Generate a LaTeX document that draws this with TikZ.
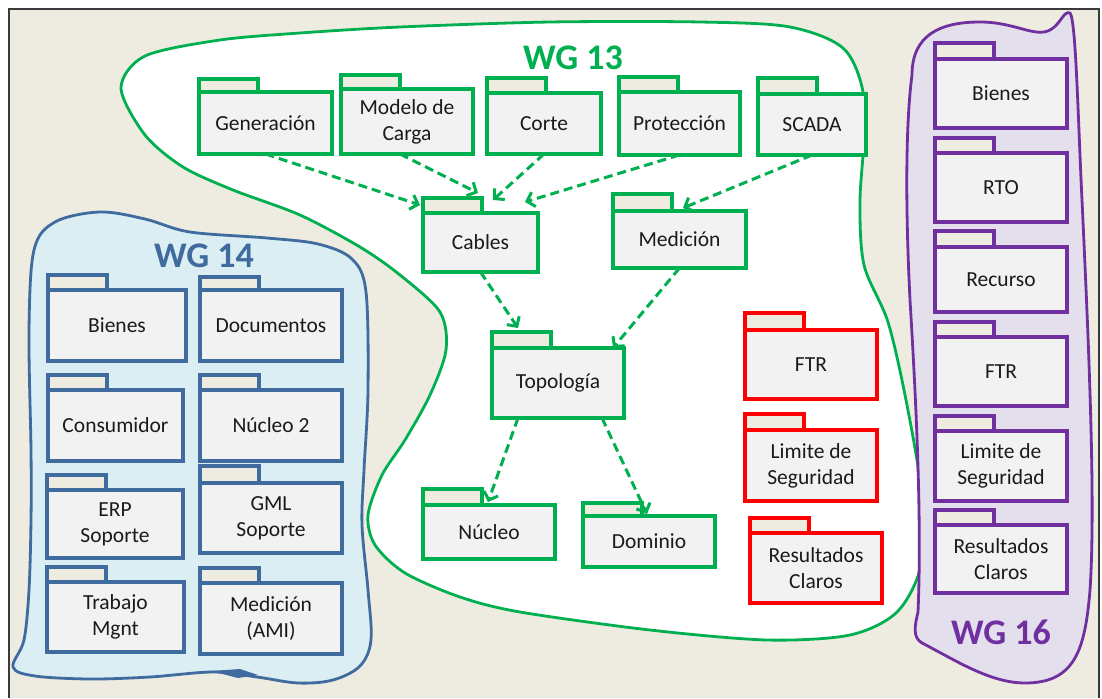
\documentclass[tikz,border=0pt]{standalone}
\usepackage{fontspec}
\setmainfont{Carlito}
\usetikzlibrary{arrows.meta}

\definecolor{bgbeige}{HTML}{EEECE1}
\definecolor{pkgfill}{HTML}{F2F2F2}
\definecolor{wgreen}{HTML}{00B050}
\definecolor{wblue}{HTML}{3F6B9E}
\definecolor{wbluefill}{HTML}{DAEEF3}
\definecolor{wpurple}{HTML}{7030A0}
\definecolor{wpurplefill}{HTML}{E4DFEC}
\definecolor{wred}{HTML}{FF0000}
\definecolor{txt}{HTML}{1A1A1A}
\definecolor{framecol}{HTML}{3A3A3A}

% UML package: #1 name, #2 left, #3 top of body, #4 right, #5 bottom,
% #6 top of tab, #7 colour, #8 label
\newcommand\umlpkg[8]{%
  \node[pkgbox, draw=#7, minimum width={#4-#2}, minimum height={#5-#3}]
    (#1) at ({(#2+#4)/2},{(#3+#5)/2}) {#8};
  \draw[tabbox, draw=#7] (#1.north west) rectangle ++(59,{#6-#3});
}

\begin{document}
\begin{tikzpicture}[x=1pt, y=-1pt,
  pkgbox/.style={fill=pkgfill, line width=3.2pt, inner sep=2pt, outer sep=0pt,
    align=center, text=txt, font=\fontsize{21.5}{26}\selectfont},
  tabbox/.style={fill=bgbeige, line width=3.2pt},
  wgtitle/.style={font=\bfseries\fontsize{36}{40}\selectfont},
  region/.style={line width=2.8pt},
  dep/.style={draw=wgreen, line width=3pt, dash pattern=on 9pt off 5pt,
    -{Straight Barb[length=7pt,width=15pt,line width=3pt]}}]

% page and frame
\fill[white] (0,0) rectangle (1102,698);
\fill[bgbeige] (9,9) rectangle (1099,698);
\draw[framecol, line width=1.4pt] (9,698) -- (9,9) -- (1099,9) -- (1099,698);

% WG 14 region
\draw[region, wblue, fill=wbluefill] plot[smooth cycle, tension=0.55]
  coordinates {(34,250) (55,222) (100,212) (145,219) (190,232) (267,238)
  (318,244) (352,259) (366,292) (368,390) (364,470) (362,525) (368,590)
  (371,640) (360,666) (333,680) (298,683) (257,677) (213,672) (150,677)
  (90,679) (35,676) (13,667) (24,640) (29,590) (31,520) (31,450) (29,330)};
% small kink on its lower edge
\fill[wblue] (211,671) -- (240,669) -- (258,675) -- (238,678) -- cycle;

% WG 13 region
\draw[region, wgreen, fill=white] plot[smooth cycle, tension=0.5]
  coordinates {(121,88) (145,56) (220,40) (300,33) (400,27) (550,22)
  (700,22) (790,27) (845,50) (865,105) (860,200) (864,265) (888,322)
  (906,400) (921,490) (921,565) (897,612) (850,635) (767,640) (650,630)
  (520,612) (460,597) (405,573) (375,545) (368,515) (382,475) (405,440)
  (430,395) (446,350) (440,312) (400,275) (360,247) (300,215) (233,190)
  (183,167) (145,135)};

% WG 16 region
\draw[region, wpurple, fill=wpurplefill]
  (912,75) .. controls (912,35) and (940,22) .. (980,22)
  .. controls (1015,22) and (1035,38) .. (1050,30)
  .. controls (1060,25) and (1064,10) .. (1070,13)
  .. controls (1076,20) and (1078,120) .. (1082,200)
  .. controls (1088,330) and (1096,500) .. (1090,590)
  .. controls (1085,650) and (1075,683) .. (1025,683)
  .. controls (990,683) and (955,660) .. (922,643)
  .. controls (912,637) and (915,625) .. (918,612)
  .. controls (922,520) and (916,400) .. (910,300)
  .. controls (905,200) and (906,120) .. (912,75) -- cycle;

% titles
\node[wgtitle, text=wgreen] (wg13) at (573,58) {WG 13};
\node[wgtitle, text=wblue] (wg14) at (204,256) {WG 14};
\node[wgtitle, text=wpurple] (wg16) at (1001,632) {WG 16};

% WG 13 packages
\umlpkg{gen}{199}{92}{332}{154}{79}{wgreen}{Generación}
\umlpkg{mod}{341}{89}{473}{154}{75}{wgreen}{Modelo de\\Carga}
\umlpkg{cor}{487}{93}{601}{154}{78}{wgreen}{Corte}
\umlpkg{pro}{619}{92}{740}{155}{77}{wgreen}{Protección}
\umlpkg{sca}{758}{94}{866}{155}{78}{wgreen}{SCADA}
\umlpkg{cab}{423}{213}{538}{272}{198}{wgreen}{Cables}
\umlpkg{med}{613}{211}{746}{268}{194}{wgreen}{Medición}
\umlpkg{top}{492}{348}{624}{418}{332}{wgreen}{Topología}
\umlpkg{nuc}{423}{505}{555}{559}{489}{wgreen}{Núcleo}
\umlpkg{dom}{583}{516}{715}{567}{503}{wgreen}{Dominio}
\umlpkg{ftr}{745}{330}{877}{399}{313}{wred}{FTR}
\umlpkg{lim}{745}{430}{877}{501}{414}{wred}{Limite de\\Seguridad}
\umlpkg{res}{750}{533}{882}{603}{518}{wred}{Resultados\\Claros}

% WG 14 packages
\umlpkg{bie}{48}{290}{186}{361}{275}{wblue}{Bienes}
\umlpkg{doc}{200}{290}{342}{361}{277}{wblue}{Documentos}
\umlpkg{con}{48}{390}{183}{461}{375}{wblue}{Consumidor}
\umlpkg{nu2}{200}{390}{342}{461}{375}{wblue}{Núcleo 2}
\umlpkg{erp}{47}{490}{183}{558}{475}{wblue}{ERP\\Soporte}
\umlpkg{gml}{200}{483}{342}{553}{466}{wblue}{GML\\Soporte}
\umlpkg{tra}{47}{582}{184}{652}{567}{wblue}{Trabajo\\Mgnt}
\umlpkg{ami}{200}{583}{342}{654}{568}{wblue}{Medición\\(AMI)}

% WG 16 packages
\umlpkg{pbie}{935}{59}{1067}{128}{43}{wpurple}{Bienes}
\umlpkg{prto}{935}{153}{1067}{222}{138}{wpurple}{RTO}
\umlpkg{prec}{935}{247}{1067}{312}{231}{wpurple}{Recurso}
\umlpkg{pftr}{935}{337}{1067}{406}{322}{wpurple}{FTR}
\umlpkg{plim}{935}{431}{1067}{501}{416}{wpurple}{Limite de\\Seguridad}
\umlpkg{pres}{935}{525}{1067}{593}{510}{wpurple}{Resultados\\Claros}

% dependencies
\draw[dep] (gen.south) -- ([xshift=-3pt,yshift=8pt]cab.north west);
\draw[dep] ([xshift=-7pt]mod.south) -- ([xshift=55pt,yshift=20pt]cab.north west);
\draw[dep] (cor.south) -- ([xshift=70pt,yshift=13pt]cab.north west);
\draw[dep] (pro.south) -- ([xshift=102pt,yshift=11pt]cab.north west);
\draw[dep] (sca.south) -- ([xshift=70pt,yshift=3pt]med.north west);
\draw[dep] (cab.south) -- ([xshift=26pt,yshift=20pt]top.north west);
\draw[dep] (med.south) -- ([xshift=-11pt]top.north east);
\draw[dep] ([xshift=26pt]top.south west) -- ([xshift=65pt,yshift=3pt]nuc.north west);
\draw[dep] ([xshift=-22pt]top.south east) -- ([xshift=64pt,yshift=2pt]dom.north west);
\end{tikzpicture}
\end{document}
